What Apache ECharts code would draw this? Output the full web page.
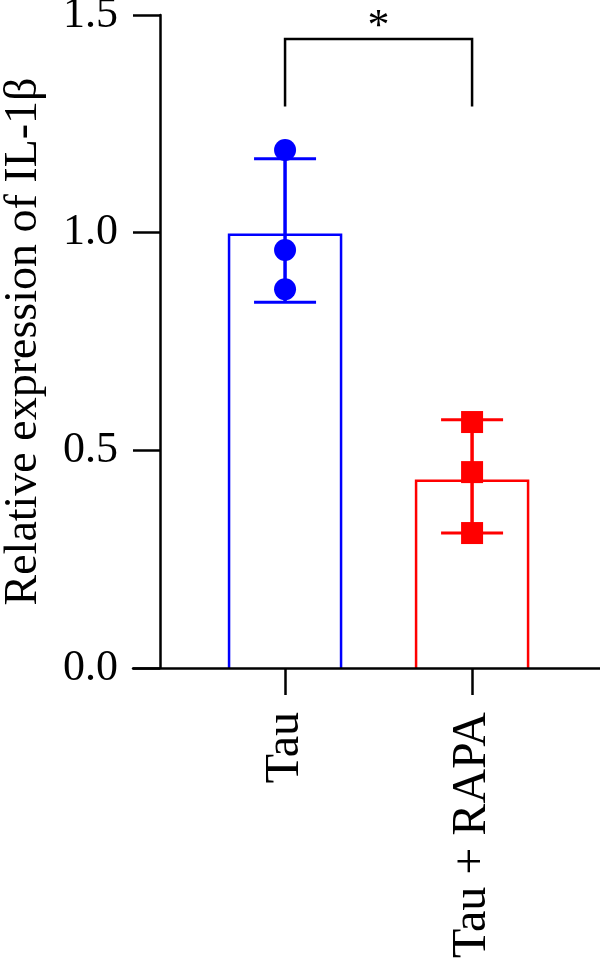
<!DOCTYPE html>
<html>
<head>
<meta charset="utf-8">
<script src="https://cdn.jsdelivr.net/npm/echarts@6/dist/echarts.min.js"></script>
<style>
  html, body { margin: 0; padding: 0; background: #fff; }
  #chart { width: 600px; height: 962px; }
</style>
</head>
<body>
<div id="chart"></div>
<script>
// data
var categories = ["Tau", "Tau + RAPA"];
var colors = ["#0000ff", "#ff0000"];
var means = [0.995, 0.43];
var errLow = [0.84, 0.31];
var errHigh = [1.17, 0.57];
var tauPoints = [1.19, 0.96, 0.87];
var rapaPoints = [0.565, 0.45, 0.31];
var yTicks = [0, 0.5, 1.0, 1.5];
var bracket = [0, 1, 1.29, 1.445]; // from cat, to cat, leg bottom, top
var sigLabel = "*";

var FONT = "'Liberation Serif', 'DejaVu Serif', serif";

var chartDom = document.getElementById("chart");
var myChart = echarts.init(chartDom, null, { renderer: "canvas" });

var barData = means.map(function (m, i) {
  return [i, m];
});
var errData = means.map(function (m, i) {
  return [i, errLow[i], errHigh[i]];
});
function pts(arr, i) {
  return arr.map(function (v) { return [i, v]; });
}

var option = {
  animation: false,
  backgroundColor: "#fff",
  grid: { left: 133, right: 0, top: 15, bottom: 294, outerBoundsMode: "none" },
  xAxis: {
    type: "value",
    min: -0.813,
    max: 1.684,
    z: 10,
    splitLine: { show: false },
    axisLine: { show: true, lineStyle: { color: "#000", width: 2.5 } },
    axisTick: { show: true, length: 27, customValues: [0, 1], lineStyle: { color: "#000", width: 2.5 } },
    axisLabel: {
      customValues: [0, 1],
      rotate: 90,
      margin: 44,
      color: "#000",
      fontFamily: FONT,
      fontSize: 48,
      formatter: function (v) { return categories[Math.round(v)]; }
    }
  },
  yAxis: {
    type: "value",
    min: yTicks[0],
    max: yTicks[yTicks.length - 1],
    interval: 0.5,
    offset: -27,
    z: 10,
    name: "Relative expression of IL-1β",
    nameLocation: "middle",
    nameGap: 113,
    nameTextStyle: { color: "#000", fontFamily: FONT, fontSize: 46 },
    splitLine: { show: false },
    axisLine: { show: true, onZero: false, lineStyle: { color: "#000", width: 2.5 } },
    axisTick: { show: true, length: 27, lineStyle: { color: "#000", width: 2.5 } },
    axisLabel: {
      margin: 42,
      color: "#000",
      fontFamily: FONT,
      fontSize: 44,
      formatter: function (v) { return v.toFixed(1); }
    }
  },
  series: [
    {
      // open bars: left, top and right edges only
      type: "custom",
      data: barData,
      z: 1,
      renderItem: function (params, api) {
        var i = api.value(0);
        var base = api.coord([i, 0]);
        var top = api.coord([i, api.value(1)]);
        var hw = 56;
        return {
          type: "polyline",
          shape: { points: [[base[0] - hw, base[1]], [top[0] - hw, top[1]], [top[0] + hw, top[1]], [base[0] + hw, base[1]]] },
          style: { stroke: colors[params.dataIndex], lineWidth: 2.5, fill: null }
        };
      }
    },
    {
      type: "custom",
      data: errData,
      z: 2,
      renderItem: function (params, api) {
        var i = api.value(0);
        var lo = api.coord([i, api.value(1)]);
        var hi = api.coord([i, api.value(2)]);
        var c = colors[params.dataIndex];
        var cap = 31;
        return {
          type: "group",
          children: [
            { type: "line", shape: { x1: lo[0], y1: lo[1], x2: hi[0], y2: hi[1] }, style: { stroke: c, lineWidth: 3.5 } },
            { type: "line", shape: { x1: lo[0] - cap, y1: lo[1], x2: lo[0] + cap, y2: lo[1] }, style: { stroke: c, lineWidth: 3 } },
            { type: "line", shape: { x1: hi[0] - cap, y1: hi[1], x2: hi[0] + cap, y2: hi[1] }, style: { stroke: c, lineWidth: 3 } }
          ]
        };
      }
    },
    {
      type: "scatter",
      data: pts(tauPoints, 0),
      symbol: "circle",
      symbolSize: 22,
      itemStyle: { color: colors[0], opacity: 1 },
      z: 3
    },
    {
      type: "scatter",
      data: pts(rapaPoints, 1),
      symbol: "rect",
      symbolSize: 22,
      itemStyle: { color: colors[1], opacity: 1 },
      z: 3
    },
    {
      type: "custom",
      data: [bracket],
      z: 4,
      renderItem: function (params, api) {
        var a = api.coord([api.value(0), api.value(2)]);
        var b = api.coord([api.value(0), api.value(3)]);
        var c = api.coord([api.value(1), api.value(3)]);
        var d = api.coord([api.value(1), api.value(2)]);
        return {
          type: "group",
          children: [
            { type: "polyline", shape: { points: [a, b, c, d] }, style: { stroke: "#000", lineWidth: 2.5, fill: null } },
            {
              type: "text",
              x: (b[0] + c[0]) / 2,
              y: b[1] + 10,
              style: { text: sigLabel, fill: "#000", font: "44px " + FONT, align: "center", verticalAlign: "bottom" }
            }
          ]
        };
      }
    }
  ]
};

option && myChart.setOption(option);
</script>
</body>
</html>
